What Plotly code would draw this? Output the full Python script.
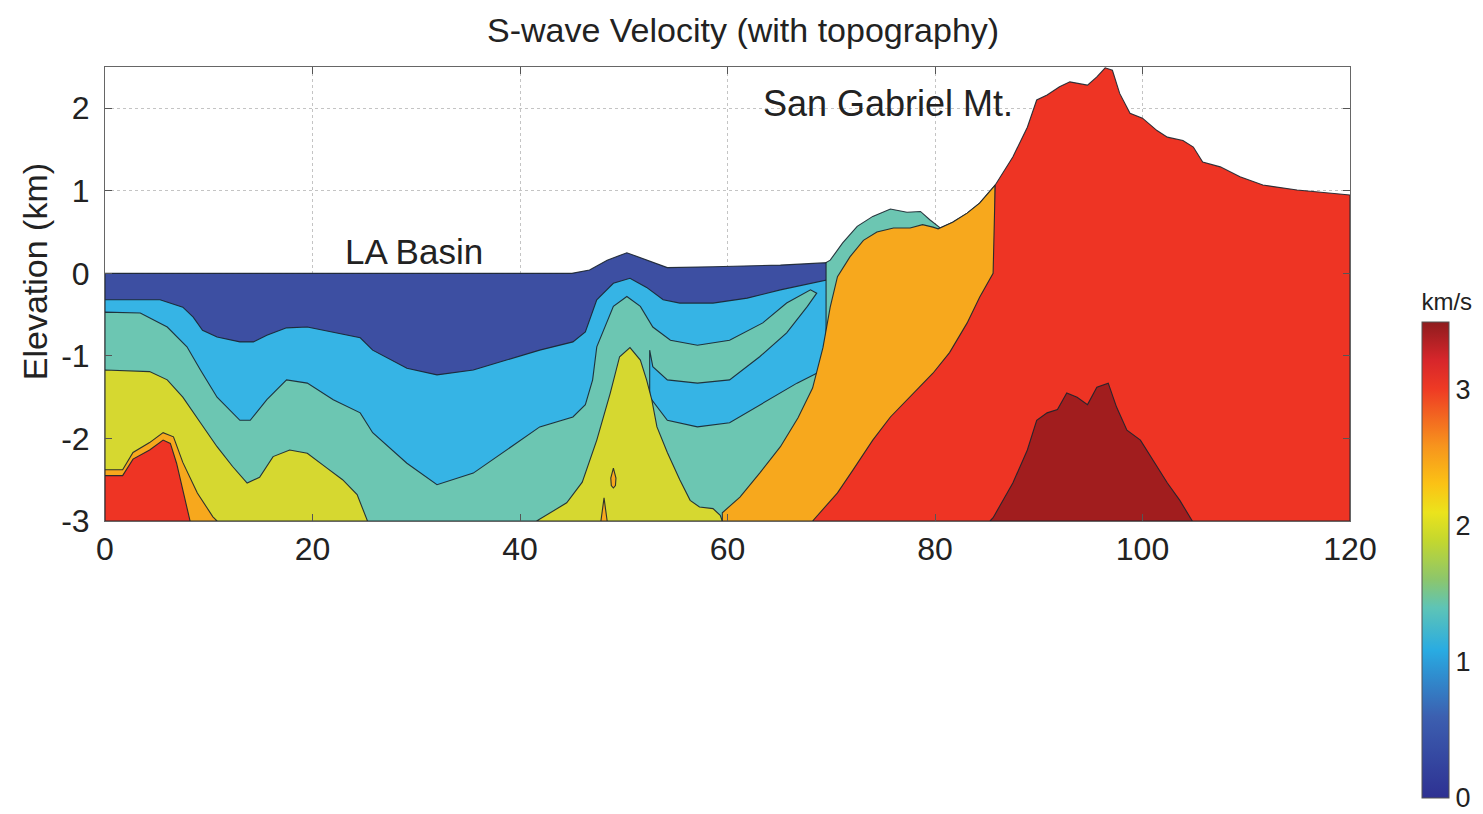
import plotly.graph_objects as go

# ---------------- data (x in km along profile, z = elevation in km) ----------------
BOTTOM = -3.0

# ground surface over the LA Basin (top of the slowest layer)
topo_basin_x = [0.0, 45.0, 46.7, 48.4, 50.3, 52.2, 54.2, 58.6, 65.1, 69.6]
topo_basin_z = [0.0, 0.0, 0.04, 0.16, 0.25, 0.16, 0.07, 0.08, 0.10, 0.13]

# base of the slowest layer (top of the ~0.5-1 km/s layer)
b1_x = [0.0, 5.3, 7.5, 8.5, 9.4, 10.8, 13.0, 14.3, 15.6, 17.5, 19.5, 22.0, 24.6, 25.8,
        29.1, 32.0, 35.5, 38.7, 41.9, 45.1, 46.3, 47.4, 49.0, 50.6, 52.2, 53.8, 55.4,
        58.6, 61.9, 65.1, 68.2, 69.6]
b1_z = [-0.32, -0.32, -0.41, -0.53, -0.69, -0.77, -0.83, -0.83, -0.75, -0.66, -0.65,
        -0.71, -0.78, -0.93, -1.15, -1.23, -1.17, -1.05, -0.93, -0.83, -0.71, -0.32,
        -0.12, -0.06, -0.17, -0.32, -0.36, -0.36, -0.30, -0.20, -0.12, -0.08]

# top of the ~1.5 km/s layer (with the tongue, the lower slow pocket and the mountain surface)
b2_x = [0.0, 3.4, 6.0, 7.9, 9.2, 10.8, 13.0, 14.0, 15.6, 17.5, 19.5, 22.0, 24.6, 25.8,
        29.1, 32.0, 35.5, 38.7, 41.9, 45.1, 46.3, 47.0, 47.4, 49.0, 50.3, 51.6, 52.8,
        54.5, 57.1, 60.2, 63.4, 65.7, 68.0, 68.6,
        67.7, 65.7, 63.1, 60.2, 57.1, 54.2, 52.8, 52.5,
        52.5, 54.2, 57.1, 60.2, 63.4, 66.7, 68.6, 69.5,
        69.5, 69.9, 71.1, 72.5, 74.0, 75.7, 77.3, 78.6, 79.5, 80.5, 81.7, 83.1, 84.3,
        85.6, 85.8]
b2_z = [-0.47, -0.48, -0.65, -0.89, -1.17, -1.50, -1.78, -1.78, -1.53, -1.29, -1.33,
        -1.53, -1.69, -1.93, -2.30, -2.56, -2.42, -2.14, -1.86, -1.74, -1.59, -1.29,
        -0.89, -0.40, -0.28, -0.40, -0.65, -0.81, -0.87, -0.81, -0.60, -0.36, -0.20,
        -0.24,
        -0.40, -0.72, -1.01, -1.29, -1.33, -1.29, -1.13, -0.93,
        -1.50, -1.78, -1.86, -1.81, -1.57, -1.33, -1.21, -1.17,
        0.13, 0.16, 0.37, 0.57, 0.69, 0.78, 0.74, 0.75, 0.65, 0.55, 0.62, 0.73, 0.85,
        1.04, 1.07]

# top of the ~2 km/s layer: western body and the central ridge
b3_left_x = [0.0, 4.3, 6.0, 7.5, 9.2, 10.8, 12.3, 13.7, 14.9, 16.2, 17.8, 19.5, 21.4,
             22.9, 24.3, 25.3]
b3_left_z = [-1.17, -1.19, -1.29, -1.50, -1.81, -2.10, -2.34, -2.54, -2.47, -2.22,
             -2.14, -2.18, -2.36, -2.50, -2.68, -3.0]
b3_mid_x = [41.6, 44.5, 46.0, 47.4, 48.7, 49.6, 50.6, 51.6, 52.2, 52.7, 53.2, 54.2, 55.4,
            56.4, 57.3, 58.6, 59.3, 59.5]
b3_mid_z = [-3.0, -2.78, -2.53, -2.02, -1.45, -1.01, -0.90, -1.05, -1.29, -1.53, -1.86,
            -2.17, -2.50, -2.75, -2.83, -2.85, -2.93, -3.0]

# top of the ~2.5 km/s layer
b4_left_x = [0.0, 1.7, 2.7, 4.3, 5.6, 6.6, 7.5, 8.9, 10.4, 10.8]
b4_left_z = [-2.38, -2.38, -2.17, -2.05, -1.93, -1.98, -2.29, -2.66, -2.95, -3.0]
b4_main_x = [59.5, 59.5, 61.2, 63.1, 65.1, 66.8, 68.2, 69.2, 69.9, 70.6, 71.8, 73.1, 74.4,
             76.0, 77.6, 78.8, 79.8, 80.3, 81.7, 83.1, 84.3, 85.6, 85.8]
b4_main_z = [-3.0, -2.90, -2.71, -2.42, -2.10, -1.75, -1.39, -0.90, -0.41, -0.04, 0.20,
             0.40, 0.50, 0.55, 0.55, 0.59, 0.56, 0.54, 0.62, 0.73, 0.85, 1.04, 1.07]
b4_spike_x = [47.8, 48.1, 48.4]
b4_spike_z = [-3.0, -2.72, -3.0]
b4_drop_x = [49.0, 49.25, 49.2, 49.0, 48.8, 48.75, 49.0]
b4_drop_z = [-2.36, -2.48, -2.57, -2.60, -2.57, -2.48, -2.36]

# top of the ~3 km/s layer (and the San Gabriel Mountains surface)
b5_left_x = [0.0, 1.7, 2.7, 4.3, 5.6, 6.3, 6.9, 7.5, 8.2]
b5_left_z = [-2.45, -2.45, -2.25, -2.14, -2.02, -2.06, -2.30, -2.62, -3.0]
b5_main_x = [68.2, 68.9, 70.6, 72.1, 74.0, 75.7, 77.6, 79.8, 81.4, 83.1, 84.3, 85.6, 85.8,
             87.5, 88.9, 89.8, 90.8, 92.0, 93.0, 94.7, 95.6, 96.4, 97.1, 97.8, 98.8,
             100.0, 101.4, 102.4, 103.9, 104.9, 105.8, 107.5, 109.4, 111.6, 114.9,
             118.1, 120.0]
b5_main_z = [-3.0, -2.90, -2.66, -2.38, -2.02, -1.74, -1.50, -1.21, -0.96, -0.60, -0.29,
             0.0, 1.07, 1.41, 1.77, 2.10, 2.16, 2.26, 2.32, 2.28, 2.38, 2.49, 2.46, 2.18,
             1.94, 1.88, 1.73, 1.65, 1.61, 1.53, 1.35, 1.29, 1.17, 1.07, 1.01, 0.97, 0.95]

# top of the fastest (>3.3 km/s) body
b6_x = [85.3, 85.6, 87.5, 88.9, 89.8, 90.8, 91.8, 92.7, 93.7, 94.7, 95.6, 96.7, 97.5,
        98.5, 99.8, 101.0, 102.4, 103.6, 104.6, 104.8]
b6_z = [-3.0, -2.96, -2.54, -2.14, -1.78, -1.69, -1.65, -1.45, -1.50, -1.59, -1.38,
        -1.33, -1.62, -1.90, -2.02, -2.26, -2.54, -2.75, -2.96, -3.0]

layer_colors = ["#3d4fa2", "#36b4e5", "#6cc6b2", "#d6d830", "#f7a81d", "#ee3424", "#a11d1e"]
cbar_scale = [[0.0, "#2e3192"], [0.17, "#3c5fb0"], [0.26, "#2f8fd0"], [0.31, "#29abe2"],
              [0.40, "#5ec4b6"], [0.46, "#8dc66b"], [0.54, "#c3d72f"], [0.60, "#ebe31c"],
              [0.66, "#fbc215"], [0.74, "#f7941d"], [0.86, "#ee3a24"], [0.92, "#d7262b"],
              [1.0, "#8e1c1e"]]
cbar_ticks = [0, 1, 2, 3]
x_ticks = [0, 20, 40, 60, 80, 100, 120]
y_ticks = [-3, -2, -1, 0, 1, 2]
y_tick_text = ["-3", "-2", "-1", "0", "1", "2"]

FONT = "Liberation Sans, Arial, Helvetica, sans-serif"
LINE = "rgba(25,35,45,0.9)"

# the page body adds an 8 px margin, so the figure is 8 px smaller than the window
FIG_W, FIG_H = 1475, 806

fig = go.Figure()


def add_region(xs, zs, color, close_to_bottom=True):
    px = list(xs)
    pz = list(zs)
    if close_to_bottom:
        px += [xs[-1], xs[0]]
        pz += [BOTTOM, BOTTOM]
    px.append(px[0])
    pz.append(pz[0])
    fig.add_trace(go.Scatter(x=px, y=pz, mode="lines", fill="toself", fillcolor=color,
                             line=dict(color=LINE, width=1.1), hoverinfo="skip",
                             showlegend=False))


add_region(topo_basin_x, topo_basin_z, layer_colors[0])
add_region(b1_x, b1_z, layer_colors[1])
add_region(b2_x, b2_z, layer_colors[2])
add_region(b3_left_x, b3_left_z, layer_colors[3])
add_region(b3_mid_x, b3_mid_z, layer_colors[3])
add_region(b4_left_x, b4_left_z, layer_colors[4])
add_region(b4_main_x, b4_main_z, layer_colors[4])
add_region(b4_spike_x, b4_spike_z, layer_colors[4])
add_region(b4_drop_x, b4_drop_z, layer_colors[4], close_to_bottom=False)
add_region(b5_left_x, b5_left_z, layer_colors[5])
add_region(b5_main_x, b5_main_z, layer_colors[5])
add_region(b6_x, b6_z, layer_colors[6])

# colour bar (carrier trace outside the visible range)
fig.add_trace(go.Scatter(
    x=[60], y=[-10], mode="markers", hoverinfo="skip", showlegend=False,
    marker=dict(size=1, opacity=0, color=[0], cmin=0, cmax=3.5, colorscale=cbar_scale,
                showscale=True,
                colorbar=dict(thickness=27, len=508, lenmode="pixels",
                              x=1.0578, xanchor="left", xpad=0,
                              y=-0.610, yanchor="bottom", ypad=0,
                              tickvals=cbar_ticks, ticks="", ticklabeloverflow="allow",
                              tickfont=dict(family=FONT, size=27, color="#222"),
                              outlinewidth=1, outlinecolor="#555",
                              title=dict(text="km/s", side="top",
                                         font=dict(family=FONT, size=24, color="#222"))))))

fig.add_annotation(x=29.8, y=0.27, text="LA Basin", showarrow=False,
                   font=dict(family=FONT, size=35, color="#222"),
                   xanchor="center", yanchor="middle")
fig.add_annotation(x=75.5, y=2.06, text="San Gabriel Mt.", showarrow=False,
                   font=dict(family=FONT, size=36, color="#222"),
                   xanchor="center", yanchor="middle")
# y-axis title
fig.add_annotation(x=-0.0562, y=0.548, xref="paper", yref="paper", text="Elevation (km)",
                   textangle=-90, showarrow=False,
                   font=dict(family=FONT, size=34, color="#222"),
                   xanchor="center", yanchor="middle")

fig.update_layout(
    width=FIG_W, height=FIG_H,
    margin=dict(l=97, r=133, t=59, b=293, autoexpand=False),
    paper_bgcolor="white", plot_bgcolor="white",
    title=dict(text="S-wave Velocity (with topography)", x=0.5125, xref="paper",
               y=1 - 22 / FIG_H, yanchor="middle", xanchor="center",
               font=dict(family=FONT, size=34, color="#222")),
    font=dict(family=FONT, color="#222"),
    xaxis=dict(range=[0, 120], tickvals=x_ticks, ticks="inside", ticklen=7,
               tickcolor="#555", showgrid=True, gridcolor="#c4c4c4", griddash="dot",
               zeroline=False, showline=True, mirror="ticks", linecolor="#666",
               linewidth=1, automargin=False,
               tickfont=dict(family=FONT, size=32, color="#222")),
    yaxis=dict(range=[-3, 2.5], tickvals=y_ticks, ticktext=y_tick_text, ticks="inside",
               ticklen=7, tickcolor="#555", showgrid=True, gridcolor="#c4c4c4",
               griddash="dot", zeroline=False, showline=True, mirror="ticks",
               linecolor="#666", linewidth=1, automargin=False, ticklabelstandoff=8,
               tickfont=dict(family=FONT, size=32, color="#222")),
)

fig.write_html("out.html")
